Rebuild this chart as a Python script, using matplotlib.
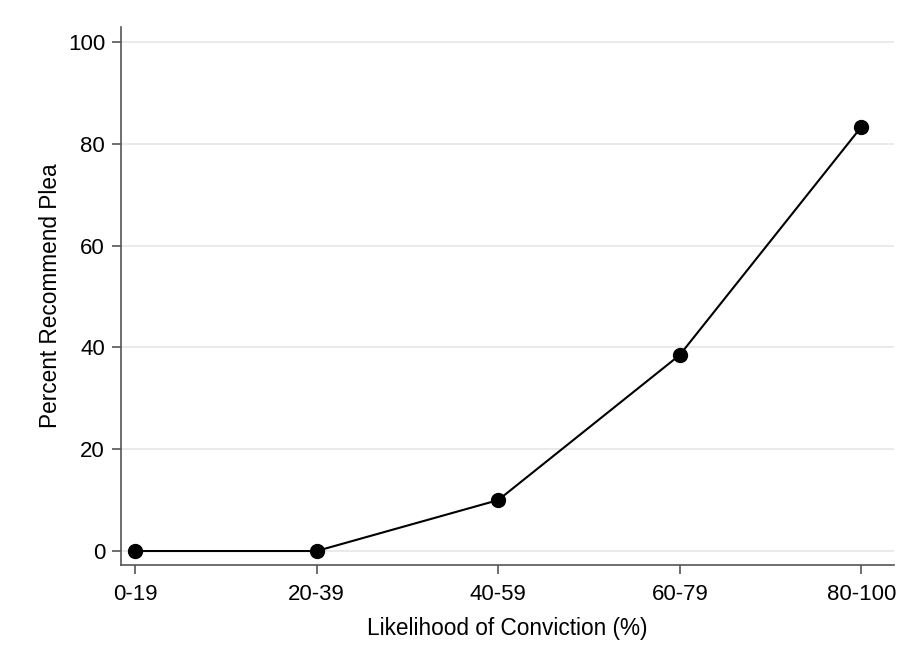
import matplotlib
matplotlib.use("Agg")
from matplotlib import pyplot as plt

plt.rcParams['font.family'] = ['Liberation Sans', 'DejaVu Sans']

categories = ['0-19', '20-39', '40-59', '60-79', '80-100']
pct_plea = [0, 0, 10, 38.5, 83.3]
y_ticks = [0, 20, 40, 60, 80, 100]

fig = plt.figure(figsize=(9.07, 6.61), dpi=100)
ax = fig.add_axes([0.1334, 0.1452, 0.8523, 0.8138])

x = list(range(len(categories)))
ax.plot(x, pct_plea, color='black', lw=1.5, marker='o', markersize=10, zorder=3)

ax.set_xlim(-0.077, 4.18)
ax.set_ylim(-2.75, 102.9)
ax.set_xticks(x)
ax.set_xticklabels(categories)
ax.set_yticks(y_ticks)
ax.yaxis.grid(True, color='#e6e6e6', lw=1.2)
ax.set_axisbelow(True)

for s in ['top', 'right']:
    ax.spines[s].set_visible(False)
for s in ['left', 'bottom']:
    ax.spines[s].set_color('#555555')
    ax.spines[s].set_linewidth(1.2)

ax.tick_params(axis='both', length=6.5, width=1.2, color='#555555', labelsize=16)
ax.tick_params(axis='x', pad=7)
ax.tick_params(axis='y', pad=5)

ax.set_xlabel('Likelihood of Conviction (%)', fontsize=16.3, labelpad=9)
ax.set_ylabel('Percent Recommend Plea', fontsize=16.3, labelpad=4)

fig.savefig('out.png', dpi=100)
